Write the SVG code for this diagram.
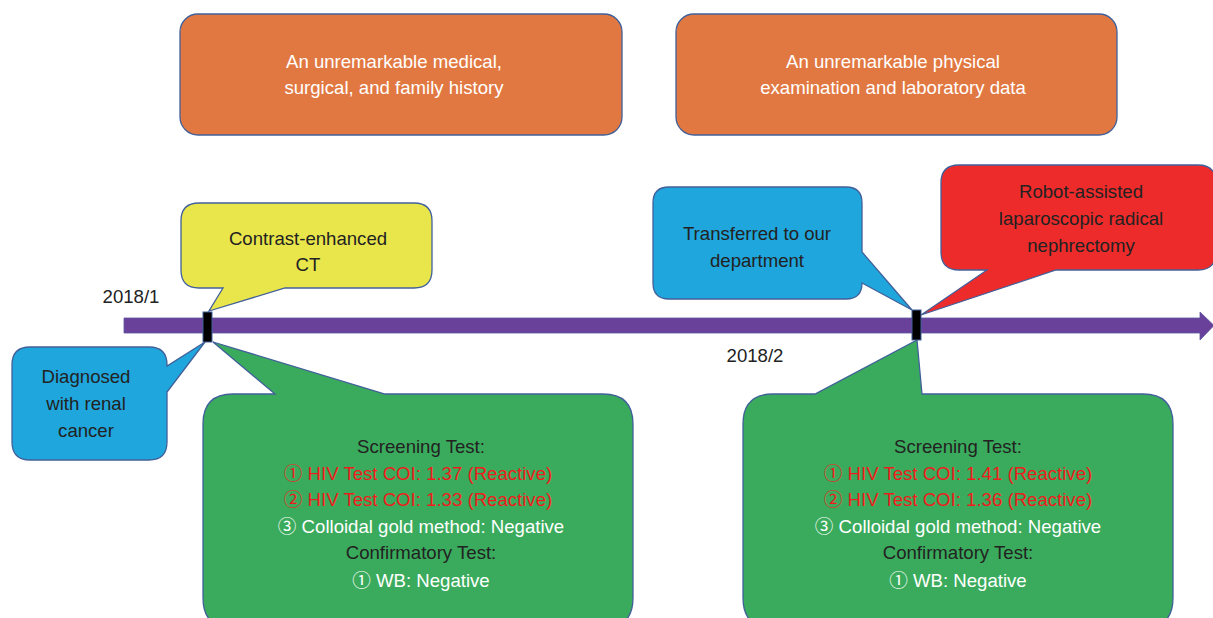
<svg xmlns="http://www.w3.org/2000/svg" width="1213" height="618" viewBox="0 0 1213 618">
<style>
text{font-family:"Liberation Sans",Arial,"Noto Sans CJK SC",sans-serif;font-size:18.6px;text-anchor:middle}
.dk{fill:#222222}
.wt{fill:#ffffff}
.rd{fill:#ee1c1c}
.shape{stroke:#41609a;stroke-width:1.3}
.cj{font-family:"Noto Sans CJK SC","Liberation Sans",sans-serif}
</style>
<rect width="1213" height="618" fill="#ffffff"/>
<g id="connectors">
<path d="M124,318 H1200 V312 L1214,325.5 L1200,340 V333 H124 Z" fill="#69419a" stroke="#5a55a0" stroke-width="0.8"/>
</g>
<g id="history">
<rect class="shape" x="180" y="14" width="442" height="121" rx="18" fill="#e27841"/>
<text class="wt" x="394" y="68">An unremarkable medical,</text>
<text class="wt" x="394" y="94">surgical, and family history</text>
</g>
<g id="exam">
<rect class="shape" x="676" y="14" width="441" height="121" rx="18" fill="#e27841"/>
<text class="wt" x="893" y="68">An unremarkable physical</text>
<text class="wt" x="893" y="94">examination and laboratory data</text>
</g>
<g id="ct">
<path class="shape" fill="#e9e64c" d="M199,203 H414 Q432,203 432,221 V270 Q432,288 414,288 H285 L209,311 L223,288 H199 Q181,288 181,270 V221 Q181,203 199,203 Z"/>
<text class="dk" x="308" y="245">Contrast-enhanced</text>
<text class="dk" x="308" y="271">CT</text>
</g>
<g id="diagnosed">
<path class="shape" fill="#1fa6dc" d="M30,347 H149 Q167,347 167,365 V366 L205,342 L167,392 V442 Q167,460 149,460 H30 Q12,460 12,442 V365 Q12,347 30,347 Z"/>
<text class="dk" x="86" y="383">Diagnosed</text>
<text class="dk" x="86" y="410">with renal</text>
<text class="dk" x="86" y="437">cancer</text>
</g>
<g id="tests1">
<path class="shape" fill="#3aab5c" d="M233,394 H275 L213,342 L385,394 H603 Q633,394 633,424 V598 Q633,628 603,628 H233 Q203,628 203,598 V424 Q203,394 233,394 Z"/>
<text class="dk" x="421" y="453">Screening Test:</text>
<text class="rd" x="418" y="480"><tspan class="cj">①</tspan> HIV Test COI: 1.37 (Reactive)</text>
<text class="rd" x="418" y="506"><tspan class="cj">②</tspan> HIV Test COI: 1.33 (Reactive)</text>
<text class="wt" x="421" y="533"><tspan class="cj">③</tspan> Colloidal gold method: Negative</text>
<text class="dk" x="421" y="559">Confirmatory Test:</text>
<text class="wt" x="421" y="587"><tspan class="cj">①</tspan> WB: Negative</text>
</g>
<g id="transferred">
<path class="shape" fill="#1fa6dc" d="M669,187 H846 Q862,187 862,203 V252 L912,310 L862,283 V283 Q862,299 846,299 H669 Q653,299 653,283 V203 Q653,187 669,187 Z"/>
<text class="dk" x="757" y="240">Transferred to our</text>
<text class="dk" x="757" y="267">department</text>
</g>
<g id="surgery">
<path class="shape" fill="#ee2b2b" d="M959,165 H1198 Q1216,165 1216,183 V252 Q1216,270 1198,270 H1056 L921,315 L987,270 H959 Q941,270 941,252 V183 Q941,165 959,165 Z"/>
<text class="dk" x="1081" y="198">Robot-assisted</text>
<text class="dk" x="1081" y="225">laparoscopic radical</text>
<text class="dk" x="1081" y="252">nephrectomy</text>
</g>
<g id="tests2">
<path class="shape" fill="#3aab5c" d="M773,394 H815 L917,340 L922,394 H1143 Q1173,394 1173,424 V598 Q1173,628 1143,628 H773 Q743,628 743,598 V424 Q743,394 773,394 Z"/>
<text class="dk" x="958" y="453">Screening Test:</text>
<text class="rd" x="958" y="480"><tspan class="cj">①</tspan> HIV Test COI: 1.41 (Reactive)</text>
<text class="rd" x="958" y="506"><tspan class="cj">②</tspan> HIV Test COI: 1.36 (Reactive)</text>
<text class="wt" x="958" y="533"><tspan class="cj">③</tspan> Colloidal gold method: Negative</text>
<text class="dk" x="958" y="559">Confirmatory Test:</text>
<text class="wt" x="958" y="587"><tspan class="cj">①</tspan> WB: Negative</text>
</g>
<g id="marker1">
<rect x="203" y="312" width="9" height="30" fill="#000000" stroke="#41609a" stroke-width="1"/>
<text class="dk" x="131" y="303">2018/1</text>
</g>
<g id="marker2">
<rect x="912" y="310" width="9" height="30" fill="#000000" stroke="#41609a" stroke-width="1"/>
<text class="dk" x="755" y="362">2018/2</text>
</g>
</svg>
